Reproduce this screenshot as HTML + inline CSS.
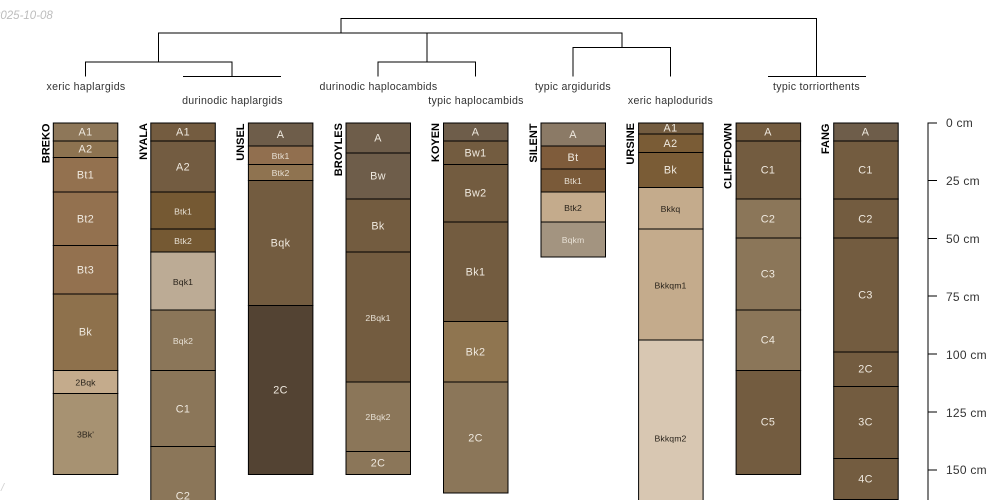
<!DOCTYPE html>
<html><head><meta charset="utf-8"><style>
html,body{margin:0;padding:0;background:#fff;width:1000px;height:500px;overflow:hidden}
svg{display:block}
text{font-family:"Liberation Sans",sans-serif}
.h rect{stroke:#000;stroke-width:1}
.t{transform:translateY(.5px)}
.t text{font-size:10.8px;letter-spacing:.35px;text-anchor:middle;fill:#efe9df;dominant-baseline:central}
.t text.s{font-size:8.7px;letter-spacing:.1px;fill:#e6dfd3}
.t text.s.d{fill:#2a241c}
.n text{font-size:11px;font-weight:bold;fill:#000;text-anchor:end}
.l text{font-size:10.6px;letter-spacing:.3px;fill:#333;text-anchor:middle}
.a text{font-size:12px;letter-spacing:.25px;fill:#333}
</style></head><body>
<svg width="1000" height="500" viewBox="0 0 1000 500" xmlns="http://www.w3.org/2000/svg">
<text x="-6" y="19" font-size="11.5" font-style="italic" fill="#bdbdbd">2025-10-08</text>
<text x="1" y="491" font-size="11" font-style="italic" fill="#d0d0d0">/</text>

<g fill="none" stroke="#000" stroke-width="1">
<path d="M341 33V18.5H816.5V76.5"/>
<path d="M768 76.5H866"/>
<path d="M158.5 62V33H622V47"/>
<path d="M427 33H525"/>
<path d="M85.5 76.5V62H232V76.5"/>
<path d="M183 76.5H281"/>
<path d="M427 62V33"/>
<path d="M378 76.5V62H475.5V76.5"/>
<path d="M573 76.5V47.5H670.5V76.5"/>
</g>

<g class="l">
<text x="86" y="90">xeric haplargids</text>
<text x="232.5" y="104">durinodic haplargids</text>
<text x="378.5" y="90">durinodic haplocambids</text>
<text x="476" y="104">typic haplocambids</text>
<text x="573" y="90">typic argidurids</text>
<text x="670.5" y="104">xeric haplodurids</text>
<text x="816.5" y="90">typic torriorthents</text>
</g>

<g class="n">
<text transform="translate(49.5,123.5) rotate(-90)">BREKO</text>
<text transform="translate(147,123) rotate(-90)">NYALA</text>
<text transform="translate(244,123.5) rotate(-90)">UNSEL</text>
<text transform="translate(342,123) rotate(-90)">BROYLES</text>
<text transform="translate(439,123) rotate(-90)">KOYEN</text>
<text transform="translate(537,123.5) rotate(-90)">SILENT</text>
<text transform="translate(634,123) rotate(-90)">URSINE</text>
<text transform="translate(731.5,123) rotate(-90)">CLIFFDOWN</text>
<text transform="translate(829,123.5) rotate(-90)">FANG</text>
</g>

<g class="h">
<rect x="53.3" y="123" width="64.5" height="18" fill="#8e7759"/>
<rect x="53.3" y="141" width="64.5" height="16.5" fill="#8d7350"/>
<rect x="53.3" y="157.5" width="64.5" height="34.5" fill="#93714f"/>
<rect x="53.3" y="192" width="64.5" height="53.5" fill="#93714f"/>
<rect x="53.3" y="245.5" width="64.5" height="48.5" fill="#93714f"/>
<rect x="53.3" y="294" width="64.5" height="76.5" fill="#8e714c"/>
<rect x="53.3" y="370.5" width="64.5" height="23" fill="#c4ab8c"/>
<rect x="53.3" y="393.5" width="64.5" height="81" fill="#a79272"/>

<rect x="150.8" y="123" width="64.5" height="18" fill="#745c40"/>
<rect x="150.8" y="141" width="64.5" height="51" fill="#735c41"/>
<rect x="150.8" y="192" width="64.5" height="37" fill="#755933"/>
<rect x="150.8" y="229" width="64.5" height="23" fill="#755933"/>
<rect x="150.8" y="252" width="64.5" height="58" fill="#bcab95"/>
<rect x="150.8" y="310" width="64.5" height="60.5" fill="#8b7659"/>
<rect x="150.8" y="370.5" width="64.5" height="76" fill="#8b7659"/>
<rect x="150.8" y="446.5" width="64.5" height="76" fill="#8b7659"/>

<rect x="248.4" y="123" width="64.5" height="23" fill="#6e5d4a"/>
<rect x="248.4" y="146" width="64.5" height="18.5" fill="#916f4f"/>
<rect x="248.4" y="164.5" width="64.5" height="16" fill="#8f7350"/>
<rect x="248.4" y="180.5" width="64.5" height="125" fill="#735c40"/>
<rect x="248.4" y="305.5" width="64.5" height="169" fill="#534333"/>

<rect x="346" y="123" width="64.5" height="30" fill="#6e5d4a"/>
<rect x="346" y="153" width="64.5" height="46" fill="#6e5d4a"/>
<rect x="346" y="199" width="64.5" height="53" fill="#735c40"/>
<rect x="346" y="252" width="64.5" height="130" fill="#735c40"/>
<rect x="346" y="382" width="64.5" height="69.5" fill="#8b7659"/>
<rect x="346" y="451.5" width="64.5" height="23" fill="#8b7659"/>

<rect x="443.5" y="123" width="64.5" height="18" fill="#6e5d4a"/>
<rect x="443.5" y="141" width="64.5" height="23.5" fill="#735c40"/>
<rect x="443.5" y="164.5" width="64.5" height="57.5" fill="#735c40"/>
<rect x="443.5" y="222" width="64.5" height="99.5" fill="#735c40"/>
<rect x="443.5" y="321.5" width="64.5" height="60.5" fill="#8f7550"/>
<rect x="443.5" y="382" width="64.5" height="111" fill="#8b7659"/>

<rect x="541" y="123" width="64.5" height="23" fill="#8b7a66"/>
<rect x="541" y="146" width="64.5" height="23" fill="#7f5c3b"/>
<rect x="541" y="169" width="64.5" height="23" fill="#7a5a39"/>
<rect x="541" y="192" width="64.5" height="30" fill="#c4ab8c"/>
<rect x="541" y="222" width="64.5" height="35" fill="#a39480"/>

<rect x="638.6" y="123" width="64.5" height="11" fill="#735c40"/>
<rect x="638.6" y="134" width="64.5" height="18.5" fill="#7a5c36"/>
<rect x="638.6" y="152.5" width="64.5" height="35" fill="#7a5c36"/>
<rect x="638.6" y="187.5" width="64.5" height="41.5" fill="#c4ab8c"/>
<rect x="638.6" y="229" width="64.5" height="111" fill="#c4ab8c"/>
<rect x="638.6" y="340" width="64.5" height="180" fill="#d8c7b2"/>

<rect x="736.1" y="123" width="64.5" height="18" fill="#745c3f"/>
<rect x="736.1" y="141" width="64.5" height="58" fill="#735c40"/>
<rect x="736.1" y="199" width="64.5" height="39" fill="#8b7659"/>
<rect x="736.1" y="238" width="64.5" height="72" fill="#8b7659"/>
<rect x="736.1" y="310" width="64.5" height="60.5" fill="#8b7659"/>
<rect x="736.1" y="370.5" width="64.5" height="104" fill="#735c40"/>

<rect x="833.7" y="123" width="64.5" height="18" fill="#6e5d4a"/>
<rect x="833.7" y="141" width="64.5" height="58" fill="#735c40"/>
<rect x="833.7" y="199" width="64.5" height="39" fill="#735c40"/>
<rect x="833.7" y="238" width="64.5" height="114" fill="#735c40"/>
<rect x="833.7" y="352" width="64.5" height="34.5" fill="#735c40"/>
<rect x="833.7" y="386.5" width="64.5" height="72" fill="#735c40"/>
<rect x="833.7" y="458.5" width="64.5" height="41" fill="#735c40"/>
</g>

<g class="t">
<text x="85.5" y="132">A1</text><text x="85.5" y="149">A2</text><text x="85.5" y="175">Bt1</text><text x="85.5" y="219">Bt2</text><text x="85.5" y="270">Bt3</text><text x="85.5" y="332">Bk</text><text class="s d" x="85.5" y="382">2Bqk</text><text class="s d" x="85.5" y="434">3Bk'</text>
<text x="183" y="132">A1</text><text x="183" y="167">A2</text><text class="s" x="183" y="211">Btk1</text><text class="s" x="183" y="240.5">Btk2</text><text class="s d" x="183" y="281.5">Bqk1</text><text class="s" x="183" y="340.5">Bqk2</text><text x="183" y="409">C1</text><text x="183" y="496">C2</text>
<text x="280.5" y="134.5">A</text><text class="s" x="280.5" y="155.5">Btk1</text><text class="s" x="280.5" y="172.5">Btk2</text><text x="280.5" y="243">Bqk</text><text x="280.5" y="390">2C</text>
<text x="378" y="138">A</text><text x="378" y="176">Bw</text><text x="378" y="226">Bk</text><text class="s" x="378" y="317.5">2Bqk1</text><text class="s" x="378" y="416.5">2Bqk2</text><text x="378" y="463">2C</text>
<text x="475.5" y="132">A</text><text x="475.5" y="153">Bw1</text><text x="475.5" y="193">Bw2</text><text x="475.5" y="272">Bk1</text><text x="475.5" y="352">Bk2</text><text x="475.5" y="438">2C</text>
<text x="573" y="134.5">A</text><text x="573" y="157.5">Bt</text><text class="s" x="573" y="180.5">Btk1</text><text class="s d" x="573" y="207.5">Btk2</text><text class="s" x="573" y="239.5">Bqkm</text>
<text x="670.5" y="128">A1</text><text x="670.5" y="143.5">A2</text><text x="670.5" y="170">Bk</text><text class="s d" x="670.5" y="208.5">Bkkq</text><text class="s d" x="670.5" y="285">Bkkqm1</text><text class="s d" x="670.5" y="438">Bkkqm2</text>
<text x="768" y="132">A</text><text x="768" y="170">C1</text><text x="768" y="219">C2</text><text x="768" y="274">C3</text><text x="768" y="340">C4</text><text x="768" y="422">C5</text>
<text x="865.5" y="132">A</text><text x="865.5" y="170">C1</text><text x="865.5" y="219">C2</text><text x="865.5" y="295">C3</text><text x="865.5" y="369">2C</text><text x="865.5" y="422">3C</text><text x="865.5" y="479">4C</text>
</g>

<g fill="none" stroke="#000" stroke-width="1">
<path d="M937 123H928V500"/>
<path d="M928 180.5H937M928 238.5H937M928 296H937M928 354H937M928 412H937M928 470H937"/>
</g>
<g class="a">
<text x="946" y="127">0 cm</text>
<text x="946" y="185">25 cm</text>
<text x="946" y="243">50 cm</text>
<text x="946" y="301">75 cm</text>
<text x="946" y="359">100 cm</text>
<text x="946" y="417">125 cm</text>
<text x="946" y="474">150 cm</text>
</g>
</svg>
</body></html>
